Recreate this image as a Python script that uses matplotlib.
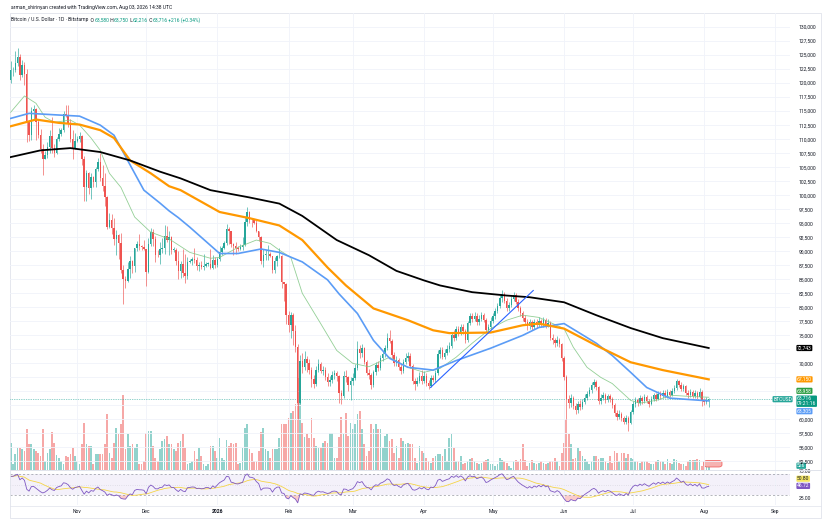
import numpy as np
import pandas as pd
import matplotlib
matplotlib.use("Agg")
import matplotlib.pyplot as plt
import matplotlib.dates as mdates
from matplotlib import transforms
from matplotlib.ticker import FuncFormatter
from matplotlib.patches import FancyBboxPatch, Rectangle
from matplotlib.lines import Line2D

plt.rcParams['font.family'] = ['Roboto', 'DejaVu Sans']

# ---------------- data (prices in thousand USD) ----------------
first_day = "2025-10-03"
first_open = 120.5

close_oct = [122.3, 122.4, 123.5, 124.7, 121.4, 123.3, 121.7, 113.2, 110.7, 115.1, 115.3, 113.1, 110.8, 108.2, 106.4,
             107.2, 108.6, 110.6, 108.5, 107.6, 110.1, 111.0, 111.6, 114.5, 114.1, 112.9, 110.0, 108.3, 109.6]
high_oct = [123.9, 122.9, 125.7, 126.2, 125.1, 124.1, 123.7, 122.5, 113.5, 115.8, 116.0, 115.5, 113.6, 111.8, 109.2,
            107.9, 109.5, 111.7, 114.0, 109.2, 110.4, 112.0, 111.9, 115.0, 116.1, 116.0, 113.6, 111.6, 111.1]
low_oct = [120.0, 121.2, 122.0, 123.1, 120.6, 121.1, 119.6, 109.5, 109.6, 109.8, 113.4, 109.9, 110.2, 107.5, 103.6,
           106.4, 106.7, 107.5, 107.5, 106.8, 107.4, 109.7, 110.6, 111.3, 113.9, 112.2, 109.4, 106.4, 108.7]

close_nov = [110.1, 110.6, 106.5, 101.5, 103.9, 101.3, 103.3, 102.3, 104.7, 106.0, 103.0, 101.6, 99.7, 94.4, 95.5,
             94.2, 92.2, 92.9, 91.5, 86.6, 85.1, 84.7, 86.8, 88.3, 87.3, 90.5, 91.3, 90.9, 90.8, 90.4]
high_nov = [110.6, 111.2, 110.8, 107.0, 104.5, 104.2, 104.0, 103.4, 105.0, 106.6, 107.5, 105.3, 104.0, 99.8, 96.8,
            96.6, 96.0, 93.8, 93.0, 93.2, 87.5, 85.6, 88.1, 89.2, 88.5, 90.6, 91.9, 93.0, 91.1, 92.0]
low_nov = [109.4, 109.5, 105.3, 98.9, 98.9, 100.3, 99.3, 101.4, 101.4, 104.3, 102.5, 100.8, 98.0, 94.0, 94.1,
           93.0, 91.2, 89.3, 88.6, 86.1, 80.6, 83.5, 84.6, 85.3, 86.2, 86.3, 90.1, 90.2, 90.3, 90.3]

close_dec = [86.3, 91.3, 93.5, 92.1, 89.4, 89.3, 90.4, 90.6, 92.7, 92.0, 92.5, 90.3, 90.3, 88.2, 86.4, 87.8,
             86.1, 85.5, 88.1, 88.3, 88.6, 88.5, 87.4, 87.6, 87.2, 87.3, 87.8, 87.8, 87.1, 88.4, 87.5]
high_dec = [90.4, 92.3, 94.1, 94.0, 92.7, 90.3, 91.7, 92.3, 94.6, 94.5, 93.6, 92.8, 90.7, 90.5, 90.1, 88.2,
            90.4, 89.5, 89.0, 88.6, 89.0, 90.5, 88.9, 88.0, 88.3, 89.5, 88.0, 88.0, 90.4, 89.3, 89.0]
low_dec = [83.8, 86.2, 91.0, 90.9, 88.1, 88.9, 87.7, 89.6, 89.5, 91.6, 89.3, 89.5, 89.8, 87.6, 85.1, 85.3,
           85.4, 84.4, 85.1, 87.9, 87.6, 87.9, 86.6, 86.4, 86.9, 86.6, 87.2, 87.4, 86.8, 86.8, 87.1]

close_jan = [88.7, 89.9, 90.6, 91.4, 93.9, 93.7, 91.3, 91.0, 90.5, 90.4, 90.8, 91.2, 95.3, 97.0, 95.6, 95.5,
             95.1, 93.6, 92.6, 88.3, 89.4, 89.5, 89.5, 89.2, 86.6, 88.3, 89.1, 89.2, 84.6, 84.1, 78.6]
high_jan = [88.9, 90.9, 90.9, 91.8, 94.8, 94.4, 93.6, 91.5, 91.6, 91.0, 91.3, 92.5, 96.3, 97.9, 97.2, 95.9,
            95.6, 95.5, 93.6, 92.8, 90.4, 90.3, 91.1, 89.8, 89.2, 88.9, 89.4, 90.5, 89.3, 84.6, 84.3]
low_jan = [87.2, 88.3, 89.3, 90.4, 91.2, 91.3, 90.7, 89.3, 89.5, 90.1, 90.2, 90.2, 91.0, 94.5, 95.0, 94.3,
           94.9, 93.4, 91.9, 87.8, 87.2, 88.5, 88.5, 88.9, 86.2, 86.2, 87.3, 88.8, 83.4, 81.1, 77.0]

close_feb = [76.9, 78.7, 75.7, 73.0, 62.9, 70.5, 69.3, 70.8, 70.1, 68.9, 67.2, 66.4, 68.8, 69.9, 68.7, 68.9,
             67.6, 66.6, 67.0, 68.0, 68.2, 67.7, 64.8, 64.2, 67.8, 67.5, 66.2, 66.9]
high_feb = [79.4, 79.2, 79.0, 76.9, 73.5, 71.5, 71.8, 72.2, 71.4, 70.8, 69.4, 68.0, 69.5, 70.7, 70.2, 69.6,
            69.3, 68.2, 67.8, 68.6, 68.9, 68.6, 67.9, 65.3, 68.6, 68.9, 67.8, 67.6]
low_feb = [75.6, 74.6, 73.3, 72.1, 60.0, 62.7, 68.2, 68.9, 68.5, 68.1, 65.8, 65.6, 66.0, 68.5, 68.2, 68.0,
           67.0, 66.0, 65.9, 66.5, 67.3, 66.9, 63.0, 62.8, 63.9, 66.6, 65.1, 63.5]

close_mar = [67.4, 69.2, 72.6, 71.9, 72.8, 70.2, 68.3, 67.9, 66.1, 68.4, 69.7, 69.2, 70.9, 71.6, 72.8, 74.6,
             74.0, 71.5, 70.1, 70.6, 69.4, 68.6, 70.3, 71.0, 71.4, 69.6, 66.8, 66.4, 66.9, 67.8, 66.9]
high_mar = [68.2, 69.8, 74.0, 73.2, 73.4, 73.0, 70.6, 69.0, 68.3, 68.9, 70.3, 70.4, 71.5, 72.2, 73.3, 75.4,
            76.0, 74.4, 72.0, 71.3, 71.0, 69.9, 70.8, 71.8, 72.0, 71.8, 69.9, 67.4, 67.6, 68.5, 68.8]
low_mar = [66.1, 67.0, 68.9, 71.0, 71.2, 69.8, 67.9, 67.2, 65.5, 65.8, 68.0, 68.6, 68.8, 70.4, 71.2, 72.4,
           73.6, 71.0, 69.6, 69.5, 68.9, 68.1, 68.2, 69.9, 70.5, 69.2, 66.3, 65.2, 65.9, 66.5, 66.4]

close_apr = [67.8, 66.5, 66.0, 67.4, 67.0, 68.2, 71.6, 72.4, 71.2, 71.9, 72.6, 73.1, 75.1, 74.6, 76.1, 75.3,
             76.5, 75.8, 74.2, 77.2, 78.4, 77.9, 78.5, 77.3, 78.0, 78.6, 77.8, 76.0, 76.5, 77.6]
high_apr = [68.6, 68.2, 67.0, 67.9, 68.0, 68.8, 72.3, 73.0, 72.9, 72.6, 73.3, 73.8, 75.6, 75.9, 76.7, 76.6,
            77.0, 77.1, 76.2, 77.6, 78.9, 79.0, 79.1, 78.9, 78.6, 79.2, 79.0, 78.1, 77.1, 78.2]
low_apr = [66.5, 66.0, 65.4, 65.7, 66.6, 66.7, 67.9, 71.0, 70.7, 70.8, 71.5, 72.1, 72.8, 74.0, 74.2, 74.8,
           75.0, 75.3, 73.7, 73.9, 76.8, 77.4, 77.5, 76.9, 76.9, 77.6, 77.3, 75.6, 75.5, 76.2]

close_may = [78.4, 79.3, 80.2, 81.6, 82.3, 81.2, 79.9, 80.4, 81.5, 82.2, 81.0, 79.8, 78.9, 78.1, 77.4, 76.6,
             77.3, 76.5, 77.4, 76.8, 77.6, 76.9, 77.7, 76.8, 77.2, 74.6, 74.1, 73.6, 74.2, 73.4, 70.9]
high_may = [79.0, 79.9, 80.8, 82.2, 83.1, 82.8, 81.6, 81.0, 82.0, 82.7, 82.6, 81.4, 80.3, 79.4, 78.6, 77.9,
            77.9, 77.8, 78.0, 77.9, 78.2, 78.0, 78.3, 78.1, 77.9, 77.5, 75.2, 74.6, 74.8, 74.6, 73.7]
low_may = [77.2, 78.0, 78.9, 79.8, 81.0, 80.7, 79.4, 79.3, 80.0, 81.1, 80.6, 79.3, 78.4, 77.6, 76.9, 76.0,
           76.2, 75.9, 76.1, 76.3, 76.4, 76.4, 76.5, 76.3, 76.4, 74.1, 73.5, 73.0, 73.1, 72.9, 70.4]

close_jun = [67.5, 63.6, 62.9, 63.8, 62.4, 61.7, 62.8, 62.2, 63.1, 63.9, 64.6, 65.2, 66.1, 66.6, 65.7, 63.2,
             63.9, 64.3, 63.5, 64.1, 63.6, 62.6, 61.2, 60.4, 61.0, 60.2, 59.6, 60.3, 59.4, 61.3]
high_jun = [71.4, 67.9, 64.4, 64.5, 64.2, 63.0, 63.3, 63.4, 63.7, 64.5, 65.1, 65.8, 66.7, 67.2, 67.0, 66.0,
            64.5, 64.9, 64.7, 64.6, 64.5, 64.0, 62.9, 61.7, 61.6, 61.4, 60.7, 60.8, 60.7, 61.7]
low_jun = [67.0, 60.0, 62.0, 62.3, 61.8, 61.0, 61.2, 61.6, 61.9, 62.7, 63.4, 64.1, 64.8, 65.6, 65.2, 62.8,
           62.8, 63.4, 63.0, 63.1, 63.1, 62.1, 60.7, 59.9, 60.0, 59.7, 59.1, 59.2, 58.0, 59.1]

close_jul = [62.7, 63.4, 62.9, 63.8, 63.2, 64.0, 63.3, 62.8, 63.6, 64.3, 63.7, 64.6, 64.1, 64.8, 64.2, 64.9,
             64.4, 65.1, 65.6, 66.8, 66.2, 65.4, 65.9, 64.8, 64.3, 64.9, 64.2, 64.7, 64.0, 64.9, 63.2]
high_jul = [63.2, 64.0, 63.9, 64.3, 64.2, 64.6, 64.4, 63.7, 64.1, 64.8, 64.7, 65.1, 65.0, 65.3, 65.2, 65.4,
            65.3, 65.6, 66.1, 67.3, 67.1, 66.6, 66.4, 66.2, 65.2, 65.4, 65.3, 65.2, 65.0, 65.6, 65.2]
low_jul = [61.0, 62.3, 62.4, 62.6, 62.8, 62.9, 62.9, 62.3, 62.5, 63.2, 63.3, 63.4, 63.7, 63.8, 63.8, 63.9,
           64.0, 64.1, 64.8, 65.3, 65.8, 65.0, 65.0, 64.4, 63.9, 64.0, 63.8, 63.9, 63.6, 63.8, 62.4]

close_aug = [63.1, 63.5, 63.716]
high_aug = [63.8, 64.0, 63.75]
low_aug = [62.6, 62.8, 62.216]

# daily volume, hundreds of BTC
vol_oct = [27, 6, 16, 22, 22, 21, 19, 41, 26, 26, 21, 19, 17, 14, 41, 9, 17, 21, 38, 27, 15, 12, 9, 6, 14, 13, 16, 22, 14]
vol_nov = [9, 6, 26, 47, 26, 24, 24, 6, 16, 16, 16, 16, 26, 56, 17, 12, 27, 42, 36, 46, 75, 21, 36, 24, 26, 22, 26, 6, 6, 9]
vol_dec = [37, 39, 39, 24, 12, 9, 21, 29, 31, 34, 26, 26, 21, 19, 27, 29, 36, 22, 6, 7, 9, 19, 11, 22, 14, 6, 4, 6, 24, 24, 19]
vol_jan = [12, 32, 12, 10, 30, 24, 27, 26, 27, 6, 7, 22, 42, 46, 21, 17, 9, 9, 19, 38, 42, 21, 19, 12, 21, 21, 21, 32, 46, 46, 46]
vol_feb = [52, 57, 59, 66, 92, 75, 47, 33, 36, 32, 52, 32, 24, 22, 22, 27, 29, 27, 37, 37, 12, 12, 33, 53, 36, 57, 34, 47]
vol_mar = [41, 46, 56, 59, 41, 26, 14, 19, 46, 41, 46, 41, 41, 22, 34, 36, 29, 31, 17, 24, 12, 32, 29, 26, 27, 26, 26, 12, 7, 24, 19]
vol_apr = [17, 12, 9, 7, 12, 14, 16, 16, 14, 21, 9, 32, 36, 22, 9, 9, 14, 6, 7, 9, 11, 12, 9, 7, 6, 7, 9, 10, 11, 6]
vol_may = [6, 4, 6, 12, 10, 9, 7, 4, 2, 9, 10, 9, 11, 26, 10, 4, 7, 10, 7, 6, 7, 9, 7, 6, 7, 9, 9, 12, 9, 4, 17]
vol_jun = [27, 51, 36, 26, 11, 12, 22, 19, 14, 11, 9, 6, 9, 14, 14, 11, 12, 12, 9, 7, 14, 7, 19, 17, 9, 17, 17, 12, 16, 12]
vol_jul = [11, 9, 9, 7, 9, 9, 9, 7, 6, 6, 9, 10, 9, 9, 6, 11, 7, 6, 11, 10, 7, 6, 6, 4, 9, 10, 10, 10, 11, 10, 4]
vol_aug = [9, 7, 5.26]

# moving averages (thousand USD)
sma20_dates = ["2025-10-03", "2025-10-09", "2025-10-14", "2025-10-18", "2025-10-22", "2025-10-29", "2025-11-02",
               "2025-11-07", "2025-11-11", "2025-11-15", "2025-11-20", "2025-11-26", "2025-12-03", "2025-12-11",
               "2025-12-20", "2025-12-29", "2026-01-02", "2026-01-10", "2026-01-18", "2026-01-24", "2026-01-28",
               "2026-02-02", "2026-02-07", "2026-02-15", "2026-02-22", "2026-03-01", "2026-03-08", "2026-03-17",
               "2026-03-25", "2026-04-01", "2026-04-08", "2026-04-15", "2026-04-22", "2026-04-30", "2026-05-07",
               "2026-05-14", "2026-05-21", "2026-05-26", "2026-06-01", "2026-06-05", "2026-06-11", "2026-06-17",
               "2026-06-22", "2026-06-30", "2026-07-04", "2026-07-11", "2026-07-18", "2026-07-26", "2026-08-03"]
sma20_vals = [114.8, 117.7, 116.4, 113.9, 113.0, 113.4, 112.5, 110.2, 108.0, 103.9, 101.4, 96.1, 93.4, 92.2,
              89.8, 88.75, 88.9, 90.7, 92.0, 91.4, 90.2, 88.9, 82.5, 77.1, 72.3, 70.0, 69.4, 71.1, 69.3, 68.4,
              69.1, 71.1, 73.6, 76.2, 77.7, 78.6, 78.2, 77.3, 76.2, 72.9, 69.3, 67.5, 66.4, 63.4, 62.9, 63.4,
              64.3, 64.1, 63.958]

sma50_dates = ["2025-10-03", "2025-10-11", "2025-10-24", "2025-11-02", "2025-11-11", "2025-11-17", "2025-11-24",
               "2025-11-30", "2025-12-07", "2025-12-11", "2025-12-15", "2025-12-20", "2026-01-02", "2026-01-10",
               "2026-01-20", "2026-01-28", "2026-02-07", "2026-02-18", "2026-02-23", "2026-03-03", "2026-03-10",
               "2026-03-17", "2026-03-25", "2026-04-05", "2026-04-15", "2026-04-30", "2026-05-14", "2026-05-21",
               "2026-06-01", "2026-06-15", "2026-06-22", "2026-06-30", "2026-07-07", "2026-07-17", "2026-08-03"]
sma50_vals = [113.7, 114.6, 114.3, 114.1, 112.5, 110.7, 105.4, 100.9, 98.6, 97.2, 96.0, 94.3, 89.6, 89.6,
              90.4, 89.8, 88.1, 84.9, 82.4, 78.9, 74.1, 70.9, 69.3, 68.8, 70.5, 72.7, 75.0, 76.4, 77.1, 73.6,
              71.4, 68.4, 65.7, 63.8, 63.305]

sma100_dates = ["2025-10-03", "2025-10-14", "2025-10-24", "2025-11-02", "2025-11-11", "2025-11-17", "2025-11-24",
                "2025-12-03", "2025-12-11", "2025-12-16", "2026-01-02", "2026-01-15", "2026-01-28", "2026-02-07",
                "2026-02-18", "2026-02-26", "2026-03-10", "2026-03-25", "2026-04-05", "2026-04-12", "2026-04-30",
                "2026-05-14", "2026-05-21", "2026-06-01", "2026-06-15", "2026-06-30", "2026-07-14", "2026-08-03"]
sma100_vals = [112.3, 113.5, 112.9, 112.6, 111.6, 110.2, 106.2, 103.9, 101.6, 100.9, 97.0, 95.9, 94.6, 92.0,
               87.1, 83.9, 79.8, 77.7, 75.9, 75.4, 75.5, 76.8, 77.1, 76.2, 73.2, 70.2, 68.8, 67.15]

sma200_dates = ["2025-10-03", "2025-10-16", "2025-10-29", "2025-11-11", "2025-11-24", "2025-12-07", "2025-12-16",
                "2025-12-29", "2026-01-15", "2026-01-28", "2026-02-07", "2026-02-22", "2026-03-08", "2026-03-20",
                "2026-04-01", "2026-04-08", "2026-04-22", "2026-05-07", "2026-05-17", "2026-06-01", "2026-06-15",
                "2026-06-30", "2026-07-14", "2026-08-03"]
sma200_vals = [106.8, 108.0, 108.4, 107.7, 106.2, 104.2, 103.0, 100.9, 99.6, 98.5, 96.3, 92.0, 89.3, 86.5,
               84.8, 83.9, 82.7, 82.1, 81.8, 80.9, 78.6, 76.3, 74.5, 72.743]

trend_dates = ["2026-04-03 20:00", "2026-05-18 14:00"]
trend_vals = [65.7, 83.0]

rsi_seed_gain, rsi_seed_loss = 1.0, 0.6   # averages carried in from before the visible range
rsi_label, rsi_ma_label = 46.72, 50.80
last_vol_label = "526"
countdown = "09:21:16"

month_ticks = ["2025-11-01", "2025-12-01", "2026-01-01", "2026-02-01", "2026-03-01", "2026-04-01",
               "2026-05-01", "2026-06-01", "2026-07-01", "2026-08-01", "2026-09-01"]
month_labels = ["Nov", "Dec", "2026", "Feb", "Mar", "Apr", "May", "Jun", "Jul", "Aug", "Sep"]
price_ticks_hidden = [72500, 67500, 65000, 62500]   # covered by value labels in the reference

# ---------------- assemble ----------------
close_k = np.array(close_oct + close_nov + close_dec + close_jan + close_feb + close_mar + close_apr +
                   close_may + close_jun + close_jul + close_aug)
high_k = np.array(high_oct + high_nov + high_dec + high_jan + high_feb + high_mar + high_apr +
                  high_may + high_jun + high_jul + high_aug)
low_k = np.array(low_oct + low_nov + low_dec + low_jan + low_feb + low_mar + low_apr +
                 low_may + low_jun + low_jul + low_aug)
vol = np.array(vol_oct + vol_nov + vol_dec + vol_jan + vol_feb + vol_mar + vol_apr + vol_may +
               vol_jun + vol_jul + vol_aug, dtype=float)
n = len(close_k)
assert len(high_k) == n and len(low_k) == n and len(vol) == n, (n, len(high_k), len(low_k), len(vol))

closes = close_k * 1000
opens = np.r_[first_open, close_k[:-1]] * 1000
highs = np.maximum.reduce([high_k * 1000, opens, closes])
lows = np.minimum.reduce([low_k * 1000, opens, closes])
dates = pd.date_range(first_day, periods=n, freq="D")
x = mdates.date2num(dates)
up = closes >= opens

# RSI (Wilder, 14)
ag, al = rsi_seed_gain * 1000, rsi_seed_loss * 1000
prev = opens[0]
rsi = []
for c in closes:
    d = c - prev
    prev = c
    ag = (ag * 13 + max(d, 0)) / 14
    al = (al * 13 + max(-d, 0)) / 14
    rsi.append(100 - 100 / (1 + ag / al))
rsi = np.array(rsi)
rsi_ma = pd.Series(rsi).rolling(14, min_periods=1).mean().values

# ---------------- figure ----------------
FW, FH = 834, 521
fig = plt.figure(figsize=(FW / 100, FH / 100), dpi=100, facecolor="white")

def fx(px):
    return px / FW

def fy(py):
    return 1 - py / FH

L, R = 10, 790
MT, MB = 13, 469.5
RT, RB = 470.5, 505

ax = fig.add_axes([fx(L), fy(MB), (R - L) / FW, (MB - MT) / FH])
axr = fig.add_axes([fx(L), fy(RB), (R - L) / FW, (RB - RT) / FH], sharex=ax)
axv = ax.twinx()
ax.set_zorder(axv.get_zorder() + 1)
ax.patch.set_visible(False)

UP, DN = "#26a69a", "#ef5350"
TXT = "#131722"
GRID = "#f0f3fa"
FS = 3.6

day0 = mdates.date2num(pd.Timestamp("2025-10-01"))
ax.set_xlim(day0 + 1.70, day0 + 341.4)
ax.set_ylim(51070, 132500)
axv.set_ylim(0, MB - MT)
axr.set_ylim(11.9, 76.5)

# volume
vcol = np.where(up, UP, DN)
axv.bar(x, vol, width=0.75, color=vcol, alpha=0.5, lw=0)
axv.set_yticks([])
for s in axv.spines.values():
    s.set_visible(False)

# candles
colors = np.where(up, UP, DN)
ax.vlines(x, lows, highs, colors=colors, lw=0.45, zorder=3)
body_lo = np.minimum(opens, closes)
body_h = np.maximum(np.abs(closes - opens), 70)
ax.bar(x, body_h, bottom=body_lo, width=0.64, color=colors, lw=0, zorder=4)

def dnum(ds):
    return mdates.date2num(pd.to_datetime(ds))

ax.plot(dnum(sma20_dates), np.array(sma20_vals) * 1000, color="#81c784", lw=0.6, alpha=0.85, zorder=5)
ax.plot(dnum(sma50_dates), np.array(sma50_vals) * 1000, color="#5b9cf6", lw=1.2, zorder=6)
ax.plot(dnum(sma100_dates), np.array(sma100_vals) * 1000, color="#ff9800", lw=1.6, zorder=6)
ax.plot(dnum(sma200_dates), np.array(sma200_vals) * 1000, color="#000000", lw=1.3, zorder=6)
ax.plot(dnum(trend_dates), np.array(trend_vals) * 1000, color="#2962ff", lw=0.8, zorder=7)

ax.axhline(closes[-1], color=UP, lw=0.5, ls=(0, (1, 1.5)), zorder=2)

# axes styling
for a in (ax, axr):
    for s in a.spines.values():
        s.set_visible(False)
ax.yaxis.tick_right()
ax.set_yticks(np.arange(52500, 130001, 2500))
ax.yaxis.set_major_formatter(FuncFormatter(
    lambda v, p: "" if any(abs(v - h) < 1 for h in price_ticks_hidden) else f"{v:,.0f}"))
ax.tick_params(axis="y", length=0, pad=6.5, labelsize=FS, labelcolor=TXT)
ax.tick_params(axis="x", length=0, labelbottom=False)
axr.set_xticks(dnum(month_ticks))
axr.set_xticklabels(month_labels)
axr.tick_params(axis="x", length=0, pad=2.6, labelsize=FS, labelcolor=TXT)
for lab in axr.get_xticklabels():
    if lab.get_text() == "2026":
        lab.set_fontweight("bold")
ax.grid(True, color=GRID, lw=0.6, zorder=0)
axr.grid(True, axis="x", color=GRID, lw=0.6)
axr.yaxis.tick_right()
axr.set_yticks([25, 75])
axr.yaxis.set_major_formatter(FuncFormatter(lambda v, p: f"{v:.2f}"))
axr.tick_params(axis="y", length=0, pad=6.5, labelsize=FS, labelcolor=TXT)
axr.grid(False, axis="y")

# RSI pane
axr.axhspan(30, 70, color="#7e57c2", alpha=0.08, lw=0)
axr.axhline(70, color="#9598a1", lw=0.5, ls=(0, (3, 3)))
axr.axhline(30, color="#9598a1", lw=0.5, ls=(0, (3, 3)))
axr.axhline(50, color="#9598a1", lw=0.4, ls=(0, (1, 3)), alpha=0.6)
axr.fill_between(x, rsi, 30, where=rsi < 30, color=DN, alpha=0.3, lw=0, interpolate=True)
axr.fill_between(x, rsi, 70, where=rsi > 70, color=UP, alpha=0.3, lw=0, interpolate=True)
axr.plot(x, rsi_ma, color="#f5d547", lw=0.6)
axr.plot(x, rsi, color="#7e57c2", lw=0.6)

# right-side value labels (dy_px: push-apart offsets so stacked labels don't collide)
def vbox(a, yval, text, fc, tc="white", dy_px=0, xpx=797, ha="left"):
    tr = transforms.blended_transform_factory(a.transAxes, a.transData)
    tr = tr + transforms.ScaledTranslation(0, dy_px / 100, fig.dpi_scale_trans)
    a.text((xpx - L) / (R - L), yval, text, transform=tr, fontsize=FS, color=tc, ha=ha, va="center",
           linespacing=1.05, clip_on=False, zorder=20,
           bbox=dict(boxstyle="round,pad=0.12,rounding_size=0.2", fc=fc, ec="none"))

vbox(ax, sma200_vals[-1] * 1000, f"{sma200_vals[-1]*1000:,.0f}", "#000000")
vbox(ax, sma100_vals[-1] * 1000, f"{sma100_vals[-1]*1000:,.0f}", "#ff9800")
vbox(ax, sma20_vals[-1] * 1000, f"{sma20_vals[-1]*1000:,.0f}", "#2e9e44", dy_px=6.4)
vbox(ax, closes[-1], f"{closes[-1]:,.0f}\n{countdown}", "#089981", dy_px=-2.6)
vbox(ax, sma50_vals[-1] * 1000, f"{sma50_vals[-1]*1000:,.0f}", "#5b9cf6", dy_px=-10.3)
vbox(ax, closes[-1], "BTCUSD", "#26a69a", xpx=792, ha="right", dy_px=-0.6)
vbox(axv, vol[-1], last_vol_label, "#26a69a", dy_px=-1.5)
vbox(axr, rsi_ma_label, f"{rsi_ma_label:.2f}", "#f5e663", tc=TXT, dy_px=5.5)
vbox(axr, rsi_label, f"{rsi_label:.2f}", "#7e57c2", dy_px=0.5)

# pill marker near last volume bar
fig.add_artist(FancyBboxPatch((fx(704), fy(467)), (722 - 704) / FW, 6.5 / FH,
                              boxstyle="round,pad=0,rounding_size=0.004", transform=fig.transFigure,
                              fc="#f6b3b1", ec="#ef5350", lw=0.5))

# frame and pane separators
fig.add_artist(Rectangle((fx(L), fy(518)), (821 - L) / FW, (518 - MT) / FH, transform=fig.transFigure,
                         fill=False, ec="#e0e3eb", lw=0.6))
fig.add_artist(Line2D([fx(L), fx(821)], [fy(470), fy(470)], transform=fig.transFigure, color="#e0e3eb", lw=0.7))
fig.add_artist(Line2D([fx(L), fx(821)], [fy(505.5), fy(505.5)], transform=fig.transFigure, color="#e0e3eb", lw=0.5))

# header
fig.text(fx(11), fy(7.3), "arman_shirinyan created with TradingView.com, Aug 03, 2026 14:38 UTC",
         fontsize=FS, color=TXT, va="center", ha="left")
t = fig.text(fx(11), fy(20), "Bitcoin / U.S. Dollar · 1D · Bitstamp", fontsize=FS, color=TXT,
             va="center", ha="left")
teal = "#089981"
pieces = [("  O", TXT), ("63,580", teal), (" H", TXT), ("63,750", teal), (" L", TXT), ("62,216", teal),
          (" C", TXT), ("63,716", teal), (" +216 (+0.34%)", teal)]
prev_art = t
for s, c in pieces:
    prev_art = ax.annotate(s, xy=(1, 0.5), xycoords=prev_art, va="center", ha="left",
                           fontsize=FS, color=c, annotation_clip=False)

fig.savefig("out.png", dpi=100, facecolor="white")
